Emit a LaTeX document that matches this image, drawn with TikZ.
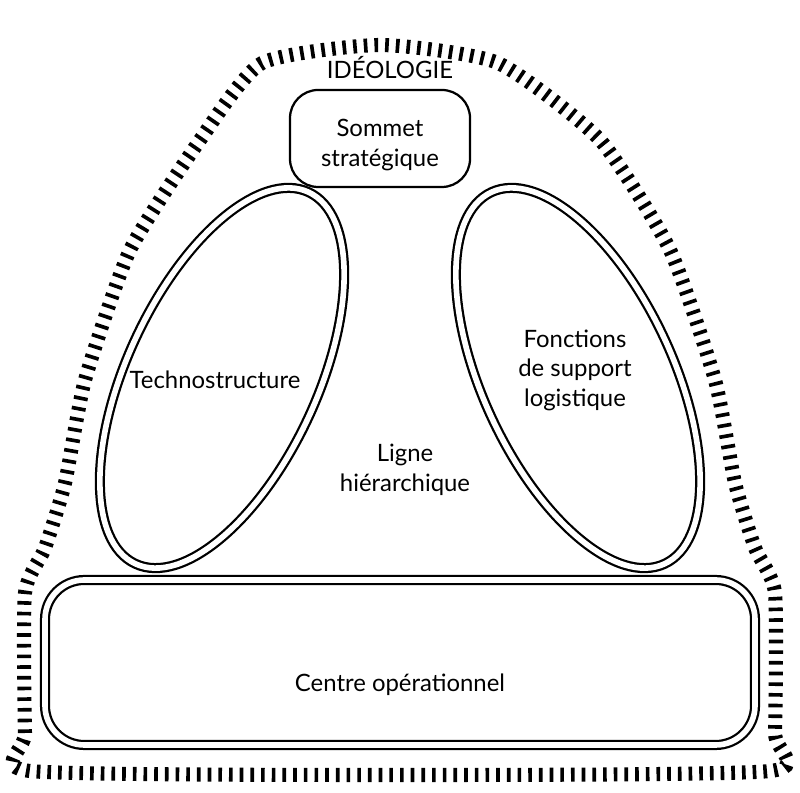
\documentclass[tikz,border=0pt]{standalone}
\usepackage{fontspec}
\setmainfont{Lato}
\tikzset{
  hatch/.style={line width=10pt,dash pattern=on 2.6pt off 5pt},
  part/.style={draw,line width=1.6pt,double,double distance=4pt},
  lbl/.style={align=center,font=\fontsize{17}{21}\selectfont}
}
\begin{document}
\begin{tikzpicture}[x=0.025cm,y=0.025cm]
    \useasboundingbox (0,0) rectangle (800,793);
    \draw[hatch] plot[smooth cycle,tension=0.35] coordinates {(30,22) (25,60) (25,200) (45,245) (65,310) (85,413) (130,543) (200,653) (262,730) (380,748) (498,730) (600,653) (670,543) (715,413) (735,310) (755,245) (775,200) (775,60) (770,22) (400,18)};
    \draw[line width=1.6pt,rounded corners=20pt] (290,606) rectangle (470,703);
    \draw[part,rotate around={65:(222,415)}] (222,415) ellipse [x radius=205,y radius=95];
    \draw[part,rotate around={-65:(578,415)}] (578,415) ellipse [x radius=205,y radius=95];
    \draw[part,rounded corners=28pt] (45,48) rectangle (755,213);
    \node[lbl] (ideo) at (390,725) {IDÉOLOGIE};
    \node[lbl] (sommet) at (380,648) {Sommet\\stratégique};
    \node[lbl] (techno) at (215,413) {Technostructure};
    \node[lbl] (support) at (575,423) {Fonctions\\de support\\logistique};
    \node[lbl] (ligne) at (405,323) {Ligne\\hiérarchique};
    \node[lbl] (centre) at (400,108) {Centre opérationnel};
\end{tikzpicture}
\end{document}
